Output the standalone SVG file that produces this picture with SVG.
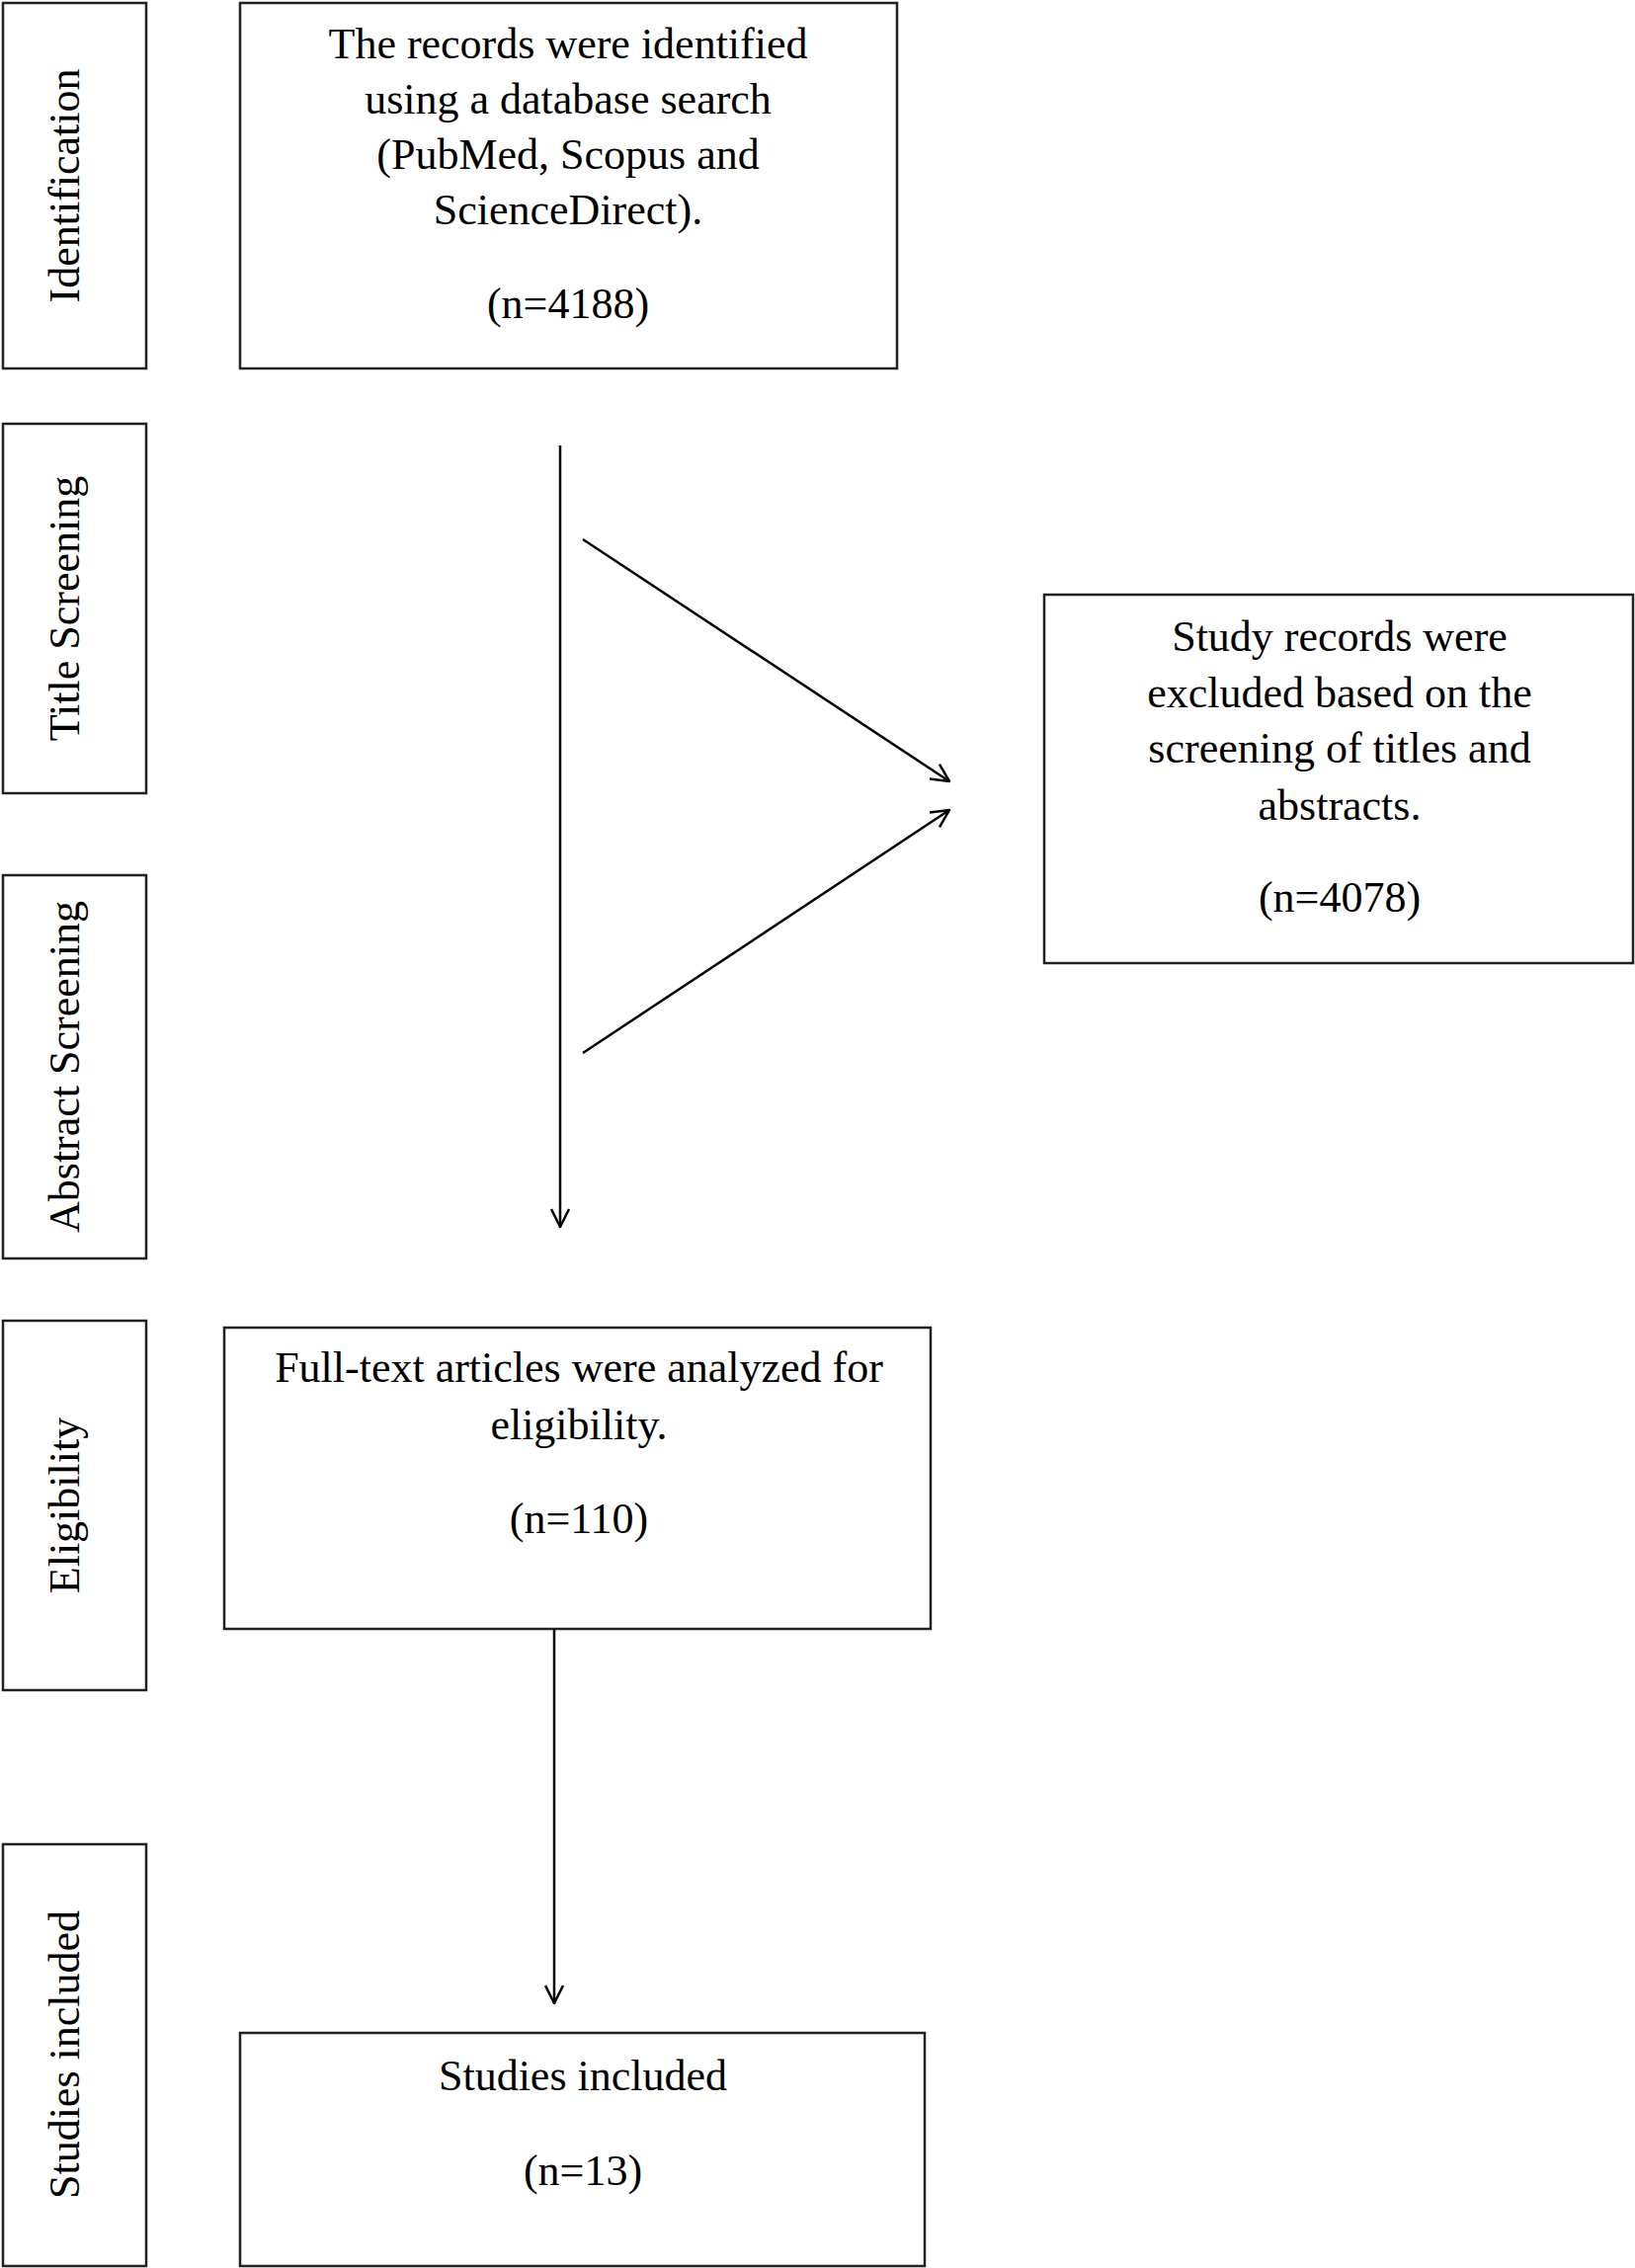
<svg xmlns="http://www.w3.org/2000/svg" width="1655" height="2296" viewBox="0 0 1655 2296">
<style>
rect{fill:#fff;stroke:#222;stroke-width:2.5}
text{font-family:"Liberation Serif","Times New Roman",serif;font-size:44px;fill:#000;text-anchor:middle}
.c line{stroke:#000;stroke-width:2.5}
</style>
<defs><marker id="a" viewBox="0 0 20 20" refX="19" refY="10" markerWidth="20" markerHeight="20" markerUnits="userSpaceOnUse" orient="auto"><path d="M1,1 L19,10 L1,19" fill="none" stroke="#000" stroke-width="2.5"/></marker></defs>
<rect width="1655" height="2296" style="fill:#fff;stroke:none"/>
<g id="lab1"><rect x="3" y="3" width="145" height="370"/><text transform="translate(80,188) rotate(-90)">Identification</text></g>
<g id="lab2"><rect x="3" y="429" width="145" height="374"/><text transform="translate(80,616) rotate(-90)">Title Screening</text></g>
<g id="lab3"><rect x="3" y="886" width="145" height="388"/><text transform="translate(80,1080) rotate(-90)">Abstract Screening</text></g>
<g id="lab4"><rect x="3" y="1337" width="145" height="374"/><text transform="translate(80,1524) rotate(-90)">Eligibility</text></g>
<g id="lab5"><rect x="3" y="1867" width="145" height="427"/><text transform="translate(80,2080) rotate(-90)">Studies included</text></g>
<g id="n1"><rect x="243" y="3" width="665" height="370"/>
<text x="575" y="59">The records were identified</text><text x="575" y="115">using a database search</text><text x="575" y="171">(PubMed, Scopus and</text><text x="575" y="227">ScienceDirect).</text><text x="575" y="322">(n=4188)</text></g>
<g id="n2"><rect x="1057" y="602" width="596" height="373"/>
<text x="1356" y="659">Study records were</text><text x="1356" y="716">excluded based on the</text><text x="1356" y="772">screening of titles and</text><text x="1356" y="830">abstracts.</text><text x="1356" y="923">(n=4078)</text></g>
<g id="n3"><rect x="227" y="1344" width="715" height="305"/>
<text x="586" y="1399">Full-text articles were analyzed for</text><text x="586" y="1457">eligibility.</text><text x="586" y="1552">(n=110)</text></g>
<g id="n4"><rect x="243" y="2058" width="693" height="236"/>
<text x="590" y="2116">Studies included</text><text x="590" y="2212">(n=13)</text></g>
<g class="c" id="connectors">
<line x1="567" y1="451" x2="567" y2="1242" marker-end="url(#a)"/>
<line x1="590" y1="546" x2="961" y2="791" marker-end="url(#a)"/>
<line x1="590" y1="1066" x2="961" y2="820" marker-end="url(#a)"/>
<line x1="561" y1="1649" x2="561" y2="2028" marker-end="url(#a)"/>
</g>
</svg>
